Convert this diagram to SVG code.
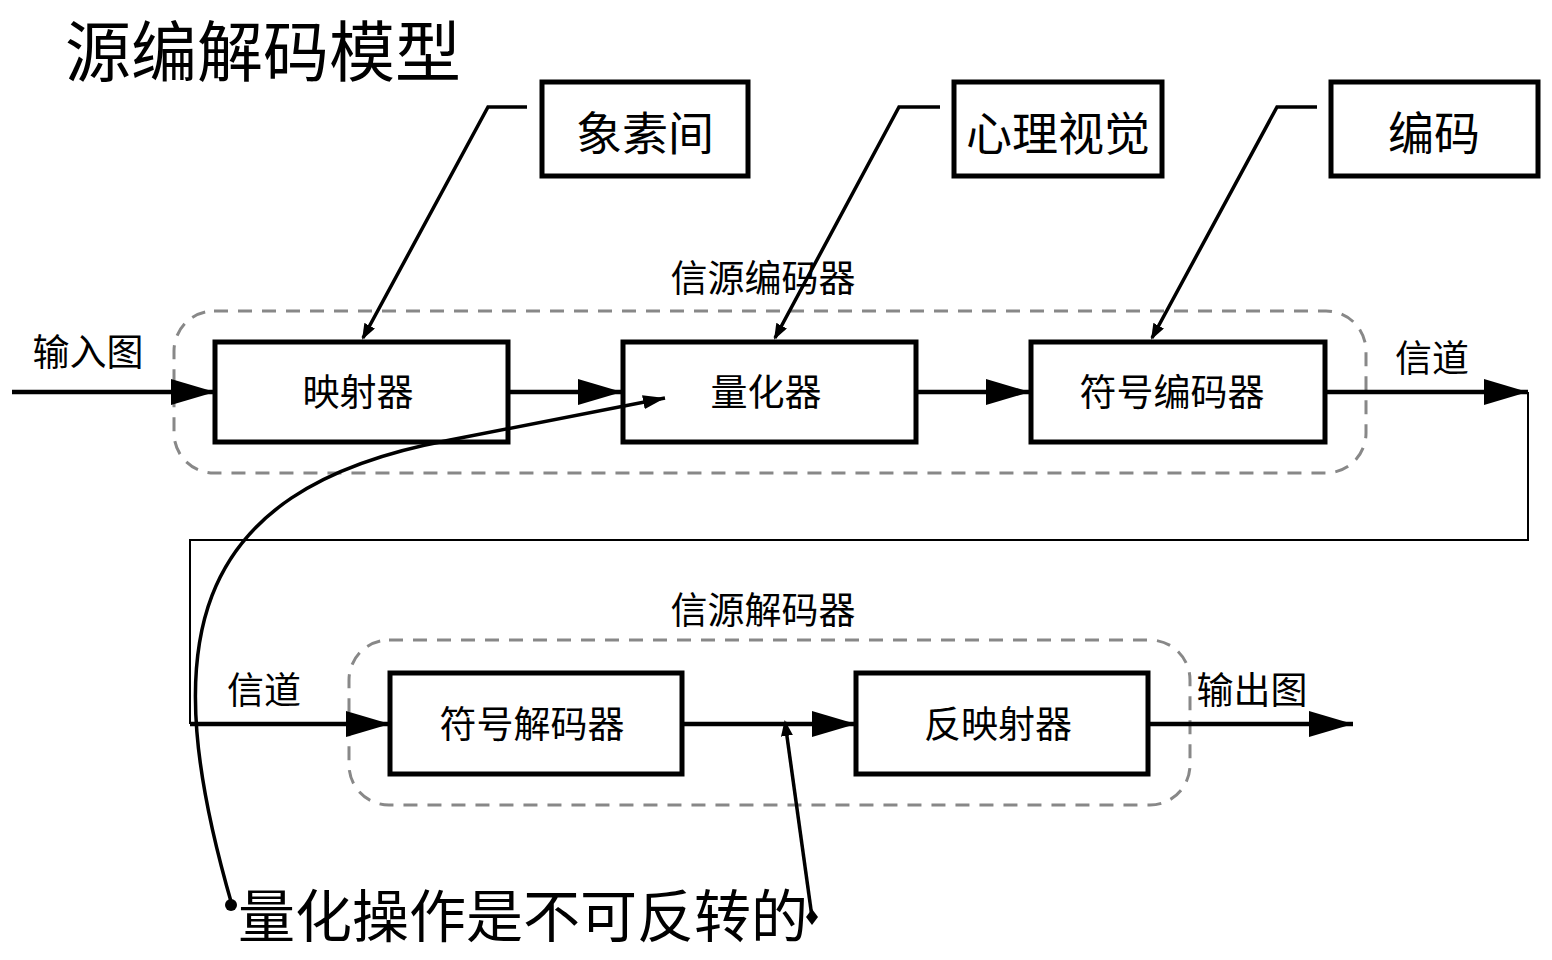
<svg xmlns="http://www.w3.org/2000/svg" width="1552" height="960" viewBox="0 0 1552 960">
<style>
text{font-family:"Noto Sans CJK SC","Liberation Sans",sans-serif;fill:#000;text-anchor:middle}
.box{fill:#fff;stroke:#000;stroke-width:5}
.grp{fill:none;stroke:#888;stroke-width:3;stroke-dasharray:14 10}
.thick{fill:none;stroke:#000;stroke-width:4.5}
.thin{fill:none;stroke:#000;stroke-width:2}
.mid{fill:none;stroke:#000;stroke-width:3.5}
.lbl{font-size:37px}
.big{font-size:46px}
</style>
<defs>
<marker id="ah" markerUnits="userSpaceOnUse" markerWidth="44" markerHeight="26" refX="44" refY="13" orient="auto">
<path d="M0,0 L44,13 L0,26 z" fill="#000"/>
</marker>
<marker id="sh" markerUnits="userSpaceOnUse" markerWidth="22" markerHeight="14" refX="22" refY="7" orient="auto">
<path d="M0,0 L22,7 L0,14 z" fill="#000"/>
</marker>
<marker id="ah2" markerUnits="userSpaceOnUse" markerWidth="16" markerHeight="12" refX="14" refY="6" orient="auto">
<path d="M0,0 L16,6 L0,12 z" fill="#000"/>
</marker>
</defs>
<rect width="1552" height="960" fill="#fff"/>
<text x="263" y="76" style="font-size:66px">源编解码模型</text>

<g id="group-encoder">
<rect class="grp" x="174" y="311" width="1192" height="162" rx="40"/>
<text class="lbl" x="763" y="292">信源编码器</text>
</g>
<g id="group-decoder">
<rect class="grp" x="349" y="640" width="841" height="165" rx="40"/>
<text class="lbl" x="763" y="624">信源解码器</text>
</g>

<g id="n-pixel"><rect class="box" x="542" y="82" width="206" height="94"/><text class="big" x="645" y="150">象素间</text></g>
<g id="n-psycho"><rect class="box" x="954" y="82" width="208" height="94"/><text class="big" x="1058" y="150">心理视觉</text></g>
<g id="n-code"><rect class="box" x="1331" y="82" width="207" height="94"/><text class="big" x="1434" y="150">编码</text></g>

<g id="n-mapper"><rect class="box" x="215" y="342" width="293" height="100"/><text class="lbl" x="358" y="406">映射器</text></g>
<g id="n-quant"><rect class="box" x="623" y="342" width="293" height="100"/><text class="lbl" x="766" y="406">量化器</text></g>
<g id="n-symenc"><rect class="box" x="1031" y="342" width="294" height="100"/><text class="lbl" x="1172" y="406">符号编码器</text></g>
<g id="n-symdec"><rect class="box" x="390" y="673" width="292" height="101"/><text class="lbl" x="532" y="738">符号解码器</text></g>
<g id="n-invmap"><rect class="box" x="856" y="673" width="292" height="101"/><text class="lbl" x="998" y="738">反映射器</text></g>

<g id="labels">
<text class="lbl" x="88" y="366">输入图</text>
<text class="lbl" x="1432" y="372">信道</text>
<text class="lbl" x="264" y="704">信道</text>
<text class="lbl" x="1252" y="704">输出图</text>
<text x="523" y="937" style="font-size:57px">量化操作是不可反转的</text>
</g>

<g id="connectors">
<line class="thick" x1="12" y1="392" x2="215" y2="392" marker-end="url(#ah)"/>
<line class="thick" x1="508" y1="392" x2="622" y2="392" marker-end="url(#ah)"/>
<line class="thick" x1="916" y1="392" x2="1030" y2="392" marker-end="url(#ah)"/>
<line class="thick" x1="1325" y1="392" x2="1528" y2="392" marker-end="url(#ah)"/>
<polyline class="thin" points="1528,392 1528,540 190,540 190,724"/>
<line class="thick" x1="190" y1="724" x2="390" y2="724" marker-end="url(#ah)"/>
<line class="thick" x1="682" y1="724" x2="856" y2="724" marker-end="url(#ah)"/>
<line class="thick" x1="1148" y1="724" x2="1353" y2="724" marker-end="url(#ah)"/>
<polyline class="mid" points="527,107 488,107 363,338" marker-end="url(#ah2)"/>
<polyline class="mid" points="940,107 899,107 775,338" marker-end="url(#ah2)"/>
<polyline class="mid" points="1317,107 1277,107 1152,338" marker-end="url(#ah2)"/>
<path class="mid" d="M232,905 C158,650 180,490 450,440 L665,398" marker-end="url(#sh)"/>
<circle cx="231" cy="905" r="6" fill="#000"/>
<line class="mid" x1="812" y1="917" x2="785" y2="722" marker-end="url(#ah2)"/>
<path d="M812,909 L818,917 L812,925 L806,917 z" fill="#000"/>
</g>
</svg>
